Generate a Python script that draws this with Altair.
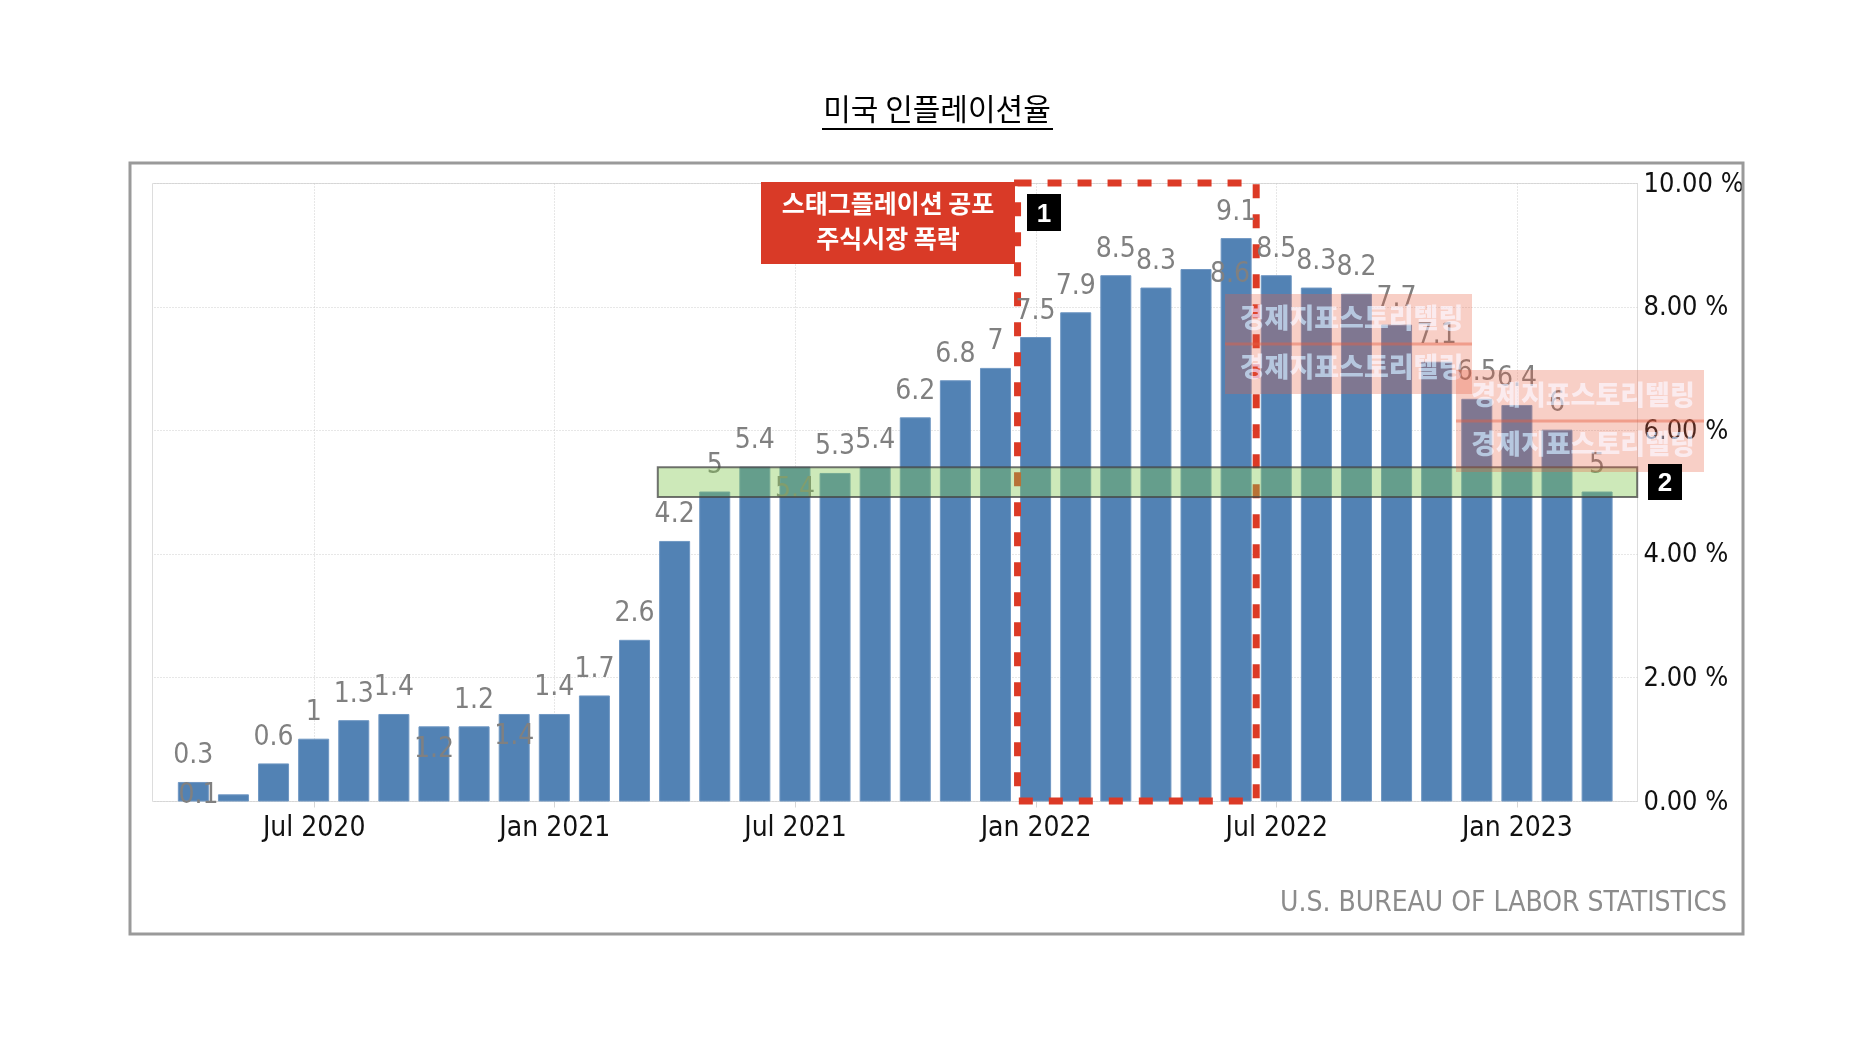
import altair as alt
import pandas as pd

# ---------------- data ----------------
months = ["Apr 2020", "May 2020", "Jun 2020", "Jul 2020", "Aug 2020", "Sep 2020",
          "Oct 2020", "Nov 2020", "Dec 2020", "Jan 2021", "Feb 2021", "Mar 2021",
          "Apr 2021", "May 2021", "Jun 2021", "Jul 2021", "Aug 2021", "Sep 2021",
          "Oct 2021", "Nov 2021", "Dec 2021", "Jan 2022", "Feb 2022", "Mar 2022",
          "Apr 2022", "May 2022", "Jun 2022", "Jul 2022", "Aug 2022", "Sep 2022",
          "Oct 2022", "Nov 2022", "Dec 2022", "Jan 2023", "Feb 2023", "Mar 2023"]
cpi_yoy = [0.3, 0.1, 0.6, 1.0, 1.3, 1.4, 1.2, 1.2, 1.4, 1.4, 1.7, 2.6,
           4.2, 5.0, 5.4, 5.4, 5.3, 5.4, 6.2, 6.8, 7.0, 7.5, 7.9, 8.5,
           8.3, 8.6, 9.1, 8.5, 8.3, 8.2, 7.7, 7.1, 6.5, 6.4, 6.0, 5.0]
# where each value label sits relative to its bar (as in the original picture)
label_place = ["above", "left", "above", "above", "above", "above",
               "inside", "above", "inside", "above", "above", "above",
               "above", "above", "above", "inside", "above", "above",
               "above", "above", "above", "above", "above", "above",
               "above", "right", "above", "above", "above", "above",
               "above", "above", "above", "above", "above", "above"]
x_tick_labels = ["Jul 2020", "Jan 2021", "Jul 2021", "Jan 2022", "Jul 2022", "Jan 2023"]
y_ticks = [0, 2, 4, 6, 8, 10]

title_text = "미국 인플레이션율"
source_text = "U.S. BUREAU OF LABOR STATISTICS"
callout_lines = ["스태그플레이션 공포", "주식시장 폭락"]
watermark_text = "경제지표스토리텔링"
highlight_months = ["Jan 2022", "Jun 2022"]     # dashed red box
band_months = ["Apr 2021", "Mar 2023"]          # green band
band_range = [4.92, 5.40]

# ---------------- derived tables ----------------
df = pd.DataFrame({
    "idx": list(range(len(months))),
    "month": months,
    "value": cpi_yoy,
    "place": label_place,
})
tick_idx = [months.index(m) for m in x_tick_labels]
month_array = "[" + ",".join("'" + m + "'" for m in months) + "]"

one = pd.DataFrame({"a": [0]})

W, H = 1485, 618
NUM_FONT = "DejaVu Sans Condensed, Liberation Sans Narrow, DejaVu Sans, sans-serif"
KR_FONT = "Noto Sans CJK KR"

xscale = alt.Scale(domain=[-0.906, 35.87], nice=False, zero=False)
yscale = alt.Scale(domain=[0, 10], nice=False, zero=True)

xaxis = alt.Axis(values=tick_idx, labelExpr=month_array + "[datum.value]",
                 title="", domain=False, grid=True, gridDash=[1, 2],
                 gridColor="#cfcfcf", ticks=True, tickSize=6, tickColor="#d6d6d6",
                 labelFont=NUM_FONT, labelFontSize=28, labelColor="#111111",
                 labelPadding=6, labelFlush=False)
yaxis = alt.Axis(orient="right", values=y_ticks,
                 labelExpr="format(datum.value, '.2f') + ' %'",
                 title="", domain=False, grid=True, gridDash=[1, 2],
                 gridColor="#cfcfcf", ticks=False,
                 labelFont=NUM_FONT, labelFontSize=27, labelColor="#111111",
                 labelPadding=6, labelFlush=False)

base = alt.Chart(df)

bars = base.mark_bar(size=30, color="#5282b4", stroke="#6f97c3", strokeWidth=1).encode(
    x=alt.X("idx:Q", scale=xscale, axis=xaxis),
    y=alt.Y("value:Q", scale=yscale, axis=yaxis),
)

# dashed highlight box
hl = pd.DataFrame({
    "x0": [months.index(highlight_months[0]) - 0.45],
    "x1": [months.index(highlight_months[1]) + 0.5],
    "y0": [0], "y1": [10],
})
dashed = alt.Chart(hl).mark_rect(fillOpacity=0, stroke="#dc3a26", strokeWidth=7,
                                 strokeDash=[14, 16]).encode(
    x=alt.X("x0:Q", scale=xscale), x2="x1:Q",
    y=alt.Y("y0:Q", scale=yscale), y2="y1:Q",
)

# value labels
offsets = {"above": (0, -19), "inside": (0, 30), "left": (-35, 8), "right": (34, 12)}
label_layers = []
for place, (dx, dy) in offsets.items():
    label_layers.append(
        base.transform_filter(alt.datum.place == place).mark_text(
            font=NUM_FONT, fontSize=28, color="#808080", baseline="alphabetic",
            align="center", dx=dx, dy=dy).encode(
            x=alt.X("idx:Q", scale=xscale),
            y=alt.Y("value:Q", scale=yscale),
            text=alt.Text("value:Q", format="~g"),
        )
    )

# green band
bd = pd.DataFrame({
    "x0": [months.index(band_months[0]) - 0.42],
    "x1": [months.index(band_months[1]) + 1.0],
    "y0": [band_range[0]], "y1": [band_range[1]],
})
band = alt.Chart(bd).mark_rect(fill="#82c850", fillOpacity=0.4, stroke="#444444",
                               strokeWidth=2, strokeOpacity=0.75).encode(
    x=alt.X("x0:Q", scale=xscale), x2="x1:Q",
    y=alt.Y("y0:Q", scale=yscale), y2="y1:Q",
)


def box(x0, x1, y0, y1, **kw):
    return alt.Chart(one).mark_rect(**kw).encode(
        x=alt.value(x0), x2=alt.value(x1), y=alt.value(y0), y2=alt.value(y1))


def txt(x, y, text, **kw):
    return alt.Chart(one).mark_text(text=text, **kw).encode(x=alt.value(x), y=alt.value(y))


def hrule(x0, x1, y, **kw):
    return alt.Chart(one).mark_rule(**kw).encode(
        x=alt.value(x0), x2=alt.value(x1), y=alt.value(y))


# watermarks
wm_layers = []
for (x0, x1, y0, y1) in [(1073, 1320, 111, 211), (1304, 1552, 187, 289)]:
    mid = (y0 + y1) / 2
    cx = (x0 + x1) / 2 + 3
    wm_layers += [
        box(x0, x1, y0, y1, fill="#e75f43", opacity=0.3),
        hrule(x0, x1, mid, color="#e75f43", strokeWidth=3, opacity=0.45),
        txt(cx, mid - 24, watermark_text, font=KR_FONT, fontSize=27, fontWeight=900,
            color="#6e96b4", blend="screen", baseline="middle"),
        txt(cx, mid + 25, watermark_text, font=KR_FONT, fontSize=27, fontWeight=900,
            color="#6e96b4", blend="screen", baseline="middle"),
    ]

# callouts
callouts = [
    box(609, 863, -1, 81, fill="#d93a27"),
    txt(736, 22, callout_lines[0], font=KR_FONT, fontSize=25, fontWeight="bold",
        color="white", baseline="middle"),
    txt(736, 57, callout_lines[1], font=KR_FONT, fontSize=25, fontWeight="bold",
        color="white", baseline="middle"),
    box(875, 909, 11, 48, fill="#000000"),
    txt(892, 31, "1", font="Liberation Sans", fontSize=26, fontWeight="bold",
        color="white", baseline="middle"),
    box(1496, 1530, 281, 317, fill="#000000"),
    txt(1513, 300, "2", font="Liberation Sans", fontSize=26, fontWeight="bold",
        color="white", baseline="middle"),
]

# title, source and frame
decor = [
    txt(785, -72, title_text, font=KR_FONT, fontSize=30, color="#000000",
        baseline="middle"),
    hrule(670, 901, -54, color="#000000", strokeWidth=2),
    txt(1575, 720, source_text, font=NUM_FONT, fontSize=28, color="#8c8c8c",
        align="right", baseline="middle"),
    box(-22, 1591, -20, 751, fillOpacity=0, stroke="#9a9a9a", strokeWidth=3),
]

chart = alt.layer(bars, dashed, *label_layers, band, *wm_layers, *callouts, *decor).properties(
    width=W, height=H,
    autosize=alt.AutoSizeParams(type="none"),
    padding={"left": 144, "top": 175, "right": 215, "bottom": 200},
).configure_view(strokeWidth=0).configure(background="white")

chart.save("out.html", embed_options={"renderer": "svg", "actions": False})
